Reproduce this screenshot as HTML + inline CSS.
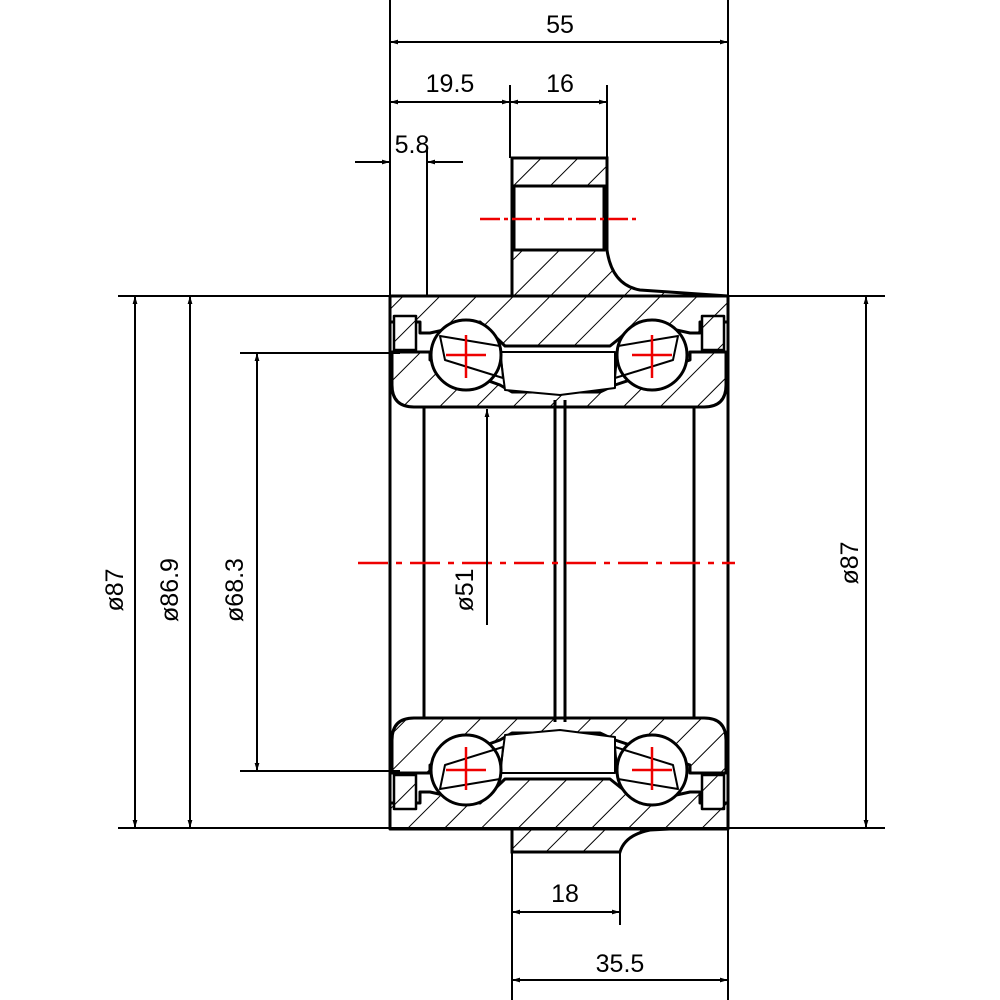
<!DOCTYPE html>
<html><head><meta charset="utf-8"><style>
html,body{margin:0;padding:0;background:#fff}
svg{display:block}
text{font-family:"Liberation Sans",sans-serif;font-size:25px;fill:#000}
.hf{fill:var(--p)}
</style></head><body>
<svg width="1000" height="1000" viewBox="0 0 1000 1000" xmlns="http://www.w3.org/2000/svg">
<defs>
<pattern id="h" patternUnits="userSpaceOnUse" width="26" height="26" patternTransform="rotate(45)">
<rect width="26" height="26" fill="#fff"/><line x1="0" y1="0" x2="0" y2="26" stroke="#000" stroke-width="2"/>
</pattern>
<pattern id="h2" patternUnits="userSpaceOnUse" width="26" height="26" patternTransform="rotate(-45)">
<rect width="26" height="26" fill="#fff"/><line x1="0" y1="0" x2="0" y2="26" stroke="#000" stroke-width="2"/>
</pattern>
<marker id="a" viewBox="0 0 10 10" refX="10" refY="5" markerWidth="12" markerHeight="8" orient="auto-start-reverse" markerUnits="userSpaceOnUse">
<path d="M0,2 L10,5 L0,8 z" fill="#000"/></marker>
<g id="half" stroke="#000" stroke-width="3" stroke-linejoin="round">
<path class="hf" d="M392,352 L392,385 Q392,407 414,407 L704,407 Q726,407 726,385 L726,352 L690,352 L690,360 L615,385 L600,392 L512,392 L500,385 L430,360 L430,352 Z"/>
<path d="M500,352 L615,352 L615,388 L560,395 L505,390 Z" fill="#fff" stroke-width="2"/>
<path class="hf" d="M390,296 L728,296 L728,322 L700,322 L700,333 L690,333 L640,322 L610,346 L505,346 L480,322 L430,333 L420,333 L420,322 L390,322 Z"/>
<rect class="hf" x="394" y="316" width="22" height="34" stroke-width="2.5"/>
<rect class="hf" x="702" y="316" width="22" height="34" stroke-width="2.5"/>
<circle cx="466" cy="355" r="35" fill="#fff"/>
<circle cx="652" cy="355" r="35" fill="#fff"/>
<path d="M440,336 L500,346 L503,378 L445,360 Z" fill="none" stroke-width="2"/>
<path d="M678,336 L618,346 L615,378 L673,360 Z" fill="none" stroke-width="2"/>
<g stroke="#e00" stroke-width="2.5"><line x1="446" y1="355" x2="486" y2="355"/><line x1="466" y1="335" x2="466" y2="378"/>
<line x1="632" y1="355" x2="672" y2="355"/><line x1="652" y1="335" x2="652" y2="378"/></g>
</g>
</defs>
<path d="M512,158 L607,158 L607,250 Q612,285 640,290 L728,296 L512,296 Z" fill="url(#h)" stroke="#000" stroke-width="3"/>
<rect x="514" y="186" width="90" height="64" fill="#fff" stroke="#000" stroke-width="3"/>
<line x1="480" y1="219" x2="640" y2="219" stroke="#e00" stroke-width="2.5" stroke-dasharray="20,4,4,4"/>
<path d="M512,826 L728,826 L650,830 Q625,835 620,852 L512,852 Z" fill="url(#h)" stroke="#000" stroke-width="3"/>
<use href="#half" style="--p:url(#h)"/>
<use href="#half" style="--p:url(#h2)" transform="translate(0,1125) scale(1,-1)"/>
<g stroke="#000" stroke-width="3">
<line x1="424" y1="407" x2="424" y2="718"/><line x1="694" y1="407" x2="694" y2="718"/>
<line x1="555" y1="400" x2="555" y2="722"/><line x1="565" y1="400" x2="565" y2="722"/>
<line x1="390" y1="296" x2="390" y2="828"/><line x1="728" y1="296" x2="728" y2="828"/>
</g>
<line x1="358" y1="563" x2="735" y2="563" stroke="#e00" stroke-width="2.5" stroke-dasharray="30,8,6,8"/>
<g stroke="#000" stroke-width="2">
<line x1="390" y1="0" x2="390" y2="296"/><line x1="728" y1="0" x2="728" y2="296"/>
<line x1="510" y1="85" x2="510" y2="158"/><line x1="607" y1="85" x2="607" y2="158"/>
<line x1="427" y1="150" x2="427" y2="296"/>
<line x1="118" y1="296" x2="885" y2="296"/><line x1="118" y1="828" x2="885" y2="828"/>
<line x1="240" y1="353" x2="400" y2="353"/><line x1="240" y1="771" x2="400" y2="771"/>
<line x1="512" y1="852" x2="512" y2="1000"/><line x1="620" y1="852" x2="620" y2="925"/>
<line x1="728" y1="828" x2="728" y2="1000"/>
</g>
<g stroke="#000" stroke-width="2" fill="none">
<line x1="390" y1="42" x2="728" y2="42" marker-start="url(#a)" marker-end="url(#a)"/>
<line x1="390" y1="102" x2="510" y2="102" marker-start="url(#a)" marker-end="url(#a)"/>
<line x1="510" y1="102" x2="607" y2="102" marker-start="url(#a)" marker-end="url(#a)"/>
<line x1="355" y1="162" x2="390" y2="162" marker-end="url(#a)"/>
<line x1="463" y1="162" x2="427" y2="162" marker-end="url(#a)"/>
<line x1="135" y1="296" x2="135" y2="828" marker-start="url(#a)" marker-end="url(#a)"/>
<line x1="190" y1="296" x2="190" y2="828" marker-start="url(#a)" marker-end="url(#a)"/>
<line x1="257" y1="353" x2="257" y2="771" marker-start="url(#a)" marker-end="url(#a)"/>
<line x1="487" y1="625" x2="487" y2="409" marker-end="url(#a)"/>
<line x1="866" y1="296" x2="866" y2="828" marker-start="url(#a)" marker-end="url(#a)"/>
<line x1="512" y1="912" x2="620" y2="912" marker-start="url(#a)" marker-end="url(#a)"/>
<line x1="512" y1="980" x2="728" y2="980" marker-start="url(#a)" marker-end="url(#a)"/>
</g>
<text x="560" y="33" text-anchor="middle">55</text>
<text x="450" y="92" text-anchor="middle">19.5</text>
<text x="560" y="92" text-anchor="middle">16</text>
<text x="412" y="153" text-anchor="middle">5.8</text>
<text x="565" y="902" text-anchor="middle">18</text>
<text x="620" y="972" text-anchor="middle">35.5</text>
<text transform="translate(123,590) rotate(-90)" text-anchor="middle">ø87</text>
<text transform="translate(178,590) rotate(-90)" text-anchor="middle">ø86.9</text>
<text transform="translate(243,590) rotate(-90)" text-anchor="middle">ø68.3</text>
<text transform="translate(473,590) rotate(-90)" text-anchor="middle">ø51</text>
<text transform="translate(858,563) rotate(-90)" text-anchor="middle">ø87</text>
</svg>
</body></html>
